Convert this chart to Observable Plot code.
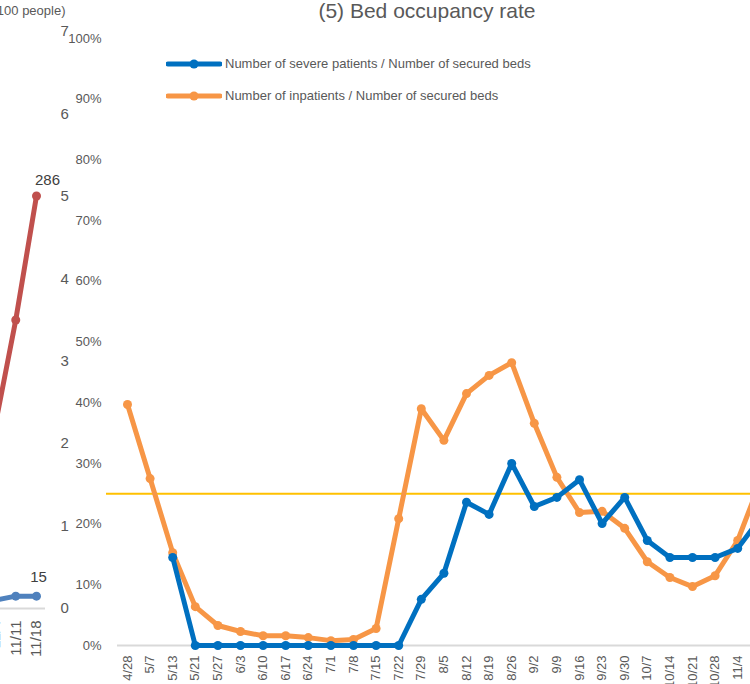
<!DOCTYPE html>
<html>
<head>
<meta charset="utf-8">
<script src="https://cdn.jsdelivr.net/npm/d3@7"></script>
<script src="https://cdn.jsdelivr.net/npm/@observablehq/plot@0.6"></script>
<style>
  html, body { margin: 0; padding: 0; background: #fff; overflow: hidden; }
  #wrap { position: relative; width: 750px; height: 684px; overflow: hidden; font-family: "Liberation Sans", Arial, sans-serif; }
  #wrap > svg, #wrap > figure { position: absolute; left: 0; top: 0; margin: 0; }
  #title { position: absolute; top: -1px; left: 427px; transform: translateX(-50%); font-size: 21px; color: #595959; white-space: nowrap; }
  .leg { position: absolute; left: 166px; display: flex; align-items: center; font-size: 13px; color: #595959; white-space: nowrap; }
  .leg svg { margin-right: 3px; }
</style>
</head>
<body>
<div id="wrap"></div>
<script>
// ---- Main chart data: (5) Bed occupancy rate ----
const dates = ["4/28","5/7","5/13","5/21","5/27","6/3","6/10","6/17","6/24","7/1","7/8","7/15","7/22","7/29","8/5","8/12","8/19","8/26","9/2","9/9","9/16","9/23","9/30","10/7","10/14","10/21","10/28","11/4","11/11","11/18"];
const severeRate = [null,null,14.5,0,0,0,0,0,0,0,0,0,0,7.6,11.9,23.6,21.6,30.0,22.9,24.4,27.3,20.1,24.4,17.3,14.5,14.5,14.5,16.0,21.0,24.0];
const inpatientRate = [39.7,27.5,15.3,6.4,3.3,2.3,1.6,1.6,1.3,0.8,1.0,2.8,20.9,39.0,33.8,41.5,44.5,46.6,36.6,27.7,21.9,22.1,19.3,13.8,11.2,9.7,11.5,17.3,27.0,30.0];
const thresholdRate = [25];
const yTicks = [0,10,20,30,40,50,60,70,80,90,100];
const seriesNames = ["Number of severe patients / Number of secured beds", "Number of inpatients / Number of secured beds"];
const titleText = "(5) Bed occupancy rate";

// ---- Neighbouring (left) chart, partly visible ----
const leftDates = ["11/4","11/11","11/18"];
const leftBlue = [10, 15, 15];        // people (axis in units of 100 people)
const leftRed = [126, 200, 286];      // on a secondary 0-400 axis
const leftTicks = [0,100,200,300,400,500,600,700];
const leftUnit = "(100 people)";

const blue = "#0070C0", orange = "#F79646", gold = "#FFC000";
const font = "'Liberation Sans', Arial, sans-serif";

const sev = dates.map((d, i) => ({date: d, v: severeRate[i]}));
const inp = dates.map((d, i) => ({date: d, v: inpatientRate[i]}));

const main = Plot.plot({
  width: 750, height: 684,
  marginTop: 38, marginBottom: 39, marginLeft: 106, marginRight: 0,
  style: {background: "transparent", fontFamily: font, fontSize: "13px", color: "#595959", overflow: "hidden"},
  x: {type: "point", domain: dates, range: [127, 127 + 22.6 * 29], padding: 0, align: 0, round: false},
  y: {domain: [0, 100]},
  marks: [
    Plot.axisY({ticks: yTicks, tickFormat: d => d + "%", tickSize: 0, tickPadding: 5, label: null, fill: "#595959"}),
    Plot.axisX({tickRotate: -90, tickSize: 0, tickPadding: 10, label: null, fill: "#595959"}),
    Plot.ruleY([0], {stroke: "#d9d9d9", strokeWidth: 2, insetLeft: 11}),
    Plot.ruleY(thresholdRate, {stroke: gold, strokeWidth: 2}),
    Plot.line(inp, {x: "date", y: "v", stroke: orange, strokeWidth: 5, curve: "linear"}),
    Plot.dot(inp, {x: "date", y: "v", fill: orange, r: 4.5}),
    Plot.line(sev, {x: "date", y: "v", stroke: blue, strokeWidth: 5, curve: "linear"}),
    Plot.dot(sev, {x: "date", y: "v", fill: blue, r: 4.5})
  ]
});

const lb = leftDates.map((d, i) => ({date: d, v: leftBlue[i]}));
const lr = leftDates.map((d, i) => ({date: d, v: leftRed[i]}));

const left = Plot.plot({
  width: 120, height: 684,
  marginTop: 31, marginBottom: 76, marginLeft: 0, marginRight: 75,
  style: {background: "transparent", fontFamily: font, fontSize: "15px", color: "#595959", overflow: "hidden"},
  x: {type: "point", domain: leftDates, range: [-5.5, 36], padding: 0, align: 0, round: false},
  y: {domain: [0, 700]},
  marks: [
    Plot.axisY({anchor: "right", ticks: leftTicks, tickFormat: d => d / 100, tickSize: 0, tickPadding: 15, label: null, fill: "#595959"}),
    Plot.axisX({tickRotate: -90, tickSize: 0, tickPadding: 12, label: null, fill: "#595959"}),
    Plot.ruleY([0], {stroke: "#d9d9d9", strokeWidth: 2}),
    Plot.line(lr, {x: "date", y: d => d.v * 700 / 400, stroke: "#C0504D", strokeWidth: 5}),
    Plot.dot(lr, {x: "date", y: d => d.v * 700 / 400, fill: "#C0504D", r: 4.5}),
    Plot.text(lr.slice(-1), {x: "date", y: d => d.v * 700 / 400, text: d => String(d.v), dx: 11, dy: -16, fill: "#404040", fontSize: 15}),
    Plot.line(lb, {x: "date", y: "v", stroke: "#4F81BD", strokeWidth: 5}),
    Plot.dot(lb, {x: "date", y: "v", fill: "#4F81BD", r: 4.5}),
    Plot.text(lb.slice(-1), {x: "date", y: "v", text: d => String(d.v), dx: 2, dy: -19, fill: "#404040", fontSize: 15}),
    Plot.text([leftUnit], {frameAnchor: "top-right", textAnchor: "end", dx: 20, dy: -26, fill: "#595959", fontSize: 13})
  ]
});

const wrap = document.getElementById("wrap");
wrap.appendChild(main);
wrap.appendChild(left);

const t = document.createElement("div");
t.id = "title";
t.textContent = titleText;
wrap.appendChild(t);

[[blue, 56], [orange, 88]].forEach(([c, top], i) => {
  const row = document.createElement("div");
  row.className = "leg";
  row.style.top = top + "px";
  row.innerHTML = `<svg width="56" height="14"><line x1="2" x2="54" y1="7" y2="7" stroke="${c}" stroke-width="5" stroke-linecap="round"/><circle cx="28" cy="7" r="4.5" fill="${c}"/></svg><span>${seriesNames[i]}</span>`;
  wrap.appendChild(row);
});
</script>
</body>
</html>
